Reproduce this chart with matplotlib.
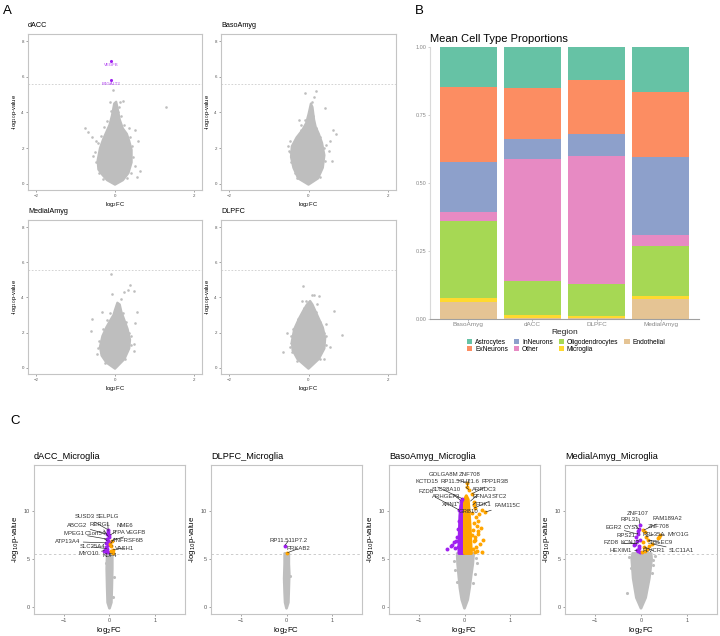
import matplotlib
matplotlib.use("Agg")
import matplotlib.pyplot as plt

plt.rcParams["font.family"] = ["Liberation Sans", "DejaVu Sans"]

W, H = 720, 636
GREY = "#BEBEBE"
PURPLE = "#A020F0"
ORANGE = "#FFA500"
THRESH = 5.58

# ---------------- panel A data (log2FC, -log10 p) ----------------
# dense cloud outlines + sparse outlying genes
dacc_env_x = [0.0, 0.2, 0.34, 0.42, 0.42, 0.36, 0.3, 0.2, 0.12, 0.06, 0.03, -0.02, -0.08, -0.14, -0.22, -0.3, -0.38, -0.44, -0.42, -0.32, -0.2]
dacc_env_y = [-0.05, 0.2, 0.6, 1.2, 1.9, 2.4, 2.8, 3.1, 3.6, 4.3, 4.6, 4.5, 3.8, 3.3, 2.9, 2.5, 2.0, 1.3, 0.8, 0.5, 0.2]
dacc_pts_x = [-0.76, -0.68, -0.59, -0.48, -0.55, 0.13, 0.19, 0.51, 0.57, 0.63, 0.55, 1.29, -0.13, 0.08, -0.06,
              -0.5, -0.47, -0.4, 0.46, 0.44, 0.38, -0.35, -0.27, 0.22, 0.3, -0.3, 0.15, -0.1, 0.35, -0.42, 0.5, 0.4, -0.2, 0.1]
dacc_pts_y = [3.14, 2.9, 2.6, 2.42, 1.58, 4.58, 4.62, 3.0, 2.4, 0.73, 0.36, 4.3, 4.58, 4.0, 5.28,
              1.8, 1.2, 0.6, 1.5, 2.1, 2.6, 2.7, 3.2, 3.3, 0.3, 0.25, 3.8, 4.1, 3.1, 2.3, 1.0, 0.6, 3.5, 4.3]
dacc_sig_x = [-0.1, -0.1]
dacc_sig_y = [6.89, 5.84]
dacc_sig_genes = ["VEGFB", "B4GALT2"]

baso_env_x = [0.0, 0.24, 0.36, 0.4, 0.34, 0.26, 0.18, 0.14, 0.1, 0.06, 0.0, -0.06, -0.16, -0.3, -0.42, -0.44, -0.38, -0.26]
baso_env_y = [-0.05, 0.3, 0.9, 1.6, 2.3, 2.8, 3.2, 3.6, 4.3, 4.5, 3.9, 3.4, 3.0, 2.6, 2.1, 1.5, 0.9, 0.3]
baso_pts_x = [-0.08, 0.18, 0.13, 0.08, 0.41, -0.23, -0.2, -0.46, -0.52, -0.49, 0.54, 0.62, 0.68, 0.6, 0.51,
              -0.46, -0.45, -0.35, 0.42, 0.38, 0.3, -0.35, -0.2, 0.2, 0.28, -0.28, 0.12, -0.1, 0.45, -0.38]
baso_pts_y = [5.09, 5.18, 4.86, 4.58, 4.26, 3.55, 3.27, 2.42, 2.14, 1.86, 2.42, 2.99, 2.8, 1.3, 1.86,
              1.8, 1.2, 0.6, 1.3, 2.0, 2.6, 2.4, 3.0, 3.1, 0.4, 0.3, 3.8, 3.6, 2.2, 2.0]

medial_env_x = [0.0, 0.24, 0.36, 0.38, 0.32, 0.24, 0.16, 0.12, 0.06, 0.0, -0.04, -0.12, -0.22, -0.32, -0.38, -0.34, -0.22]
medial_env_y = [-0.05, 0.5, 1.1, 1.6, 2.2, 2.7, 3.2, 3.6, 3.7, 3.3, 3.0, 2.7, 2.3, 1.8, 1.2, 0.7, 0.3]
medial_pts_x = [-0.09, 0.37, 0.32, 0.47, 0.23, -0.07, -0.58, -0.6, -0.33, 0.55, 0.51, 0.47, 0.47, -0.45, 0.15,
                -0.4, -0.36, 0.4, 0.36, 0.28, -0.3, -0.2, 0.2, 0.26, -0.25, -0.13, 0.4, -0.42]
medial_pts_y = [5.32, 4.72, 4.4, 4.34, 4.3, 4.2, 2.75, 2.1, 3.2, 3.2, 2.57, 1.35, 0.97, 0.79, 3.9,
                1.5, 0.9, 1.3, 2.0, 2.6, 2.2, 2.7, 3.1, 0.5, 0.3, 3.1, 1.8, 1.1]

dlpfc_env_x = [0.0, 0.26, 0.4, 0.42, 0.36, 0.26, 0.16, 0.1, 0.04, -0.04, -0.12, -0.24, -0.36, -0.42, -0.4, -0.28]
dlpfc_env_y = [-0.05, 0.5, 1.1, 1.7, 2.3, 2.8, 3.3, 3.6, 3.8, 3.6, 3.3, 2.8, 2.2, 1.5, 1.0, 0.5]
dlpfc_pts_x = [-0.14, 0.08, 0.14, 0.27, -0.17, -0.06, 0.21, 0.63, -0.53, -0.63, 0.84, 0.55, 0.43, 0.38, -0.46,
               -0.45, -0.42, 0.44, 0.4, 0.3, -0.38, -0.26, 0.2, 0.3, -0.3, -0.12, 0.44, -0.45]
dlpfc_pts_y = [4.63, 4.16, 4.12, 4.06, 3.82, 3.82, 3.63, 3.22, 2.0, 0.88, 1.87, 1.2, 2.47, 0.5, 1.16,
               1.4, 0.9, 1.3, 2.0, 2.6, 2.2, 2.8, 3.2, 0.5, 0.4, 3.4, 1.8, 1.8]

# ---------------- panel B data ----------------
regions = ["BasoAmyg", "dACC", "DLPFC", "MedialAmyg"]
cell_types = ["Endothelial", "Microglia", "Oligodendrocytes", "Other", "InNeurons", "ExNeurons", "Astrocytes"]
endothelial = [0.064, 0.005, 0.005, 0.074]
microglia = [0.013, 0.010, 0.007, 0.012]
oligodendrocytes = [0.285, 0.125, 0.116, 0.184]
other = [0.033, 0.449, 0.472, 0.038]
inneurons = [0.183, 0.074, 0.079, 0.286]
exneurons = [0.275, 0.185, 0.201, 0.239]
astrocytes = [0.147, 0.152, 0.120, 0.167]
cell_colors = {
    "Astrocytes": "#66C2A5", "ExNeurons": "#FC8D62", "InNeurons": "#8DA0CB",
    "Other": "#E78AC3", "Oligodendrocytes": "#A6D854", "Microglia": "#FFD92F",
    "Endothelial": "#E5C494",
}
legend_order = ["Astrocytes", "ExNeurons", "InNeurons", "Other", "Oligodendrocytes", "Microglia", "Endothelial"]

# ---------------- panel C data ----------------
c_dacc_env_x = [0.0, 0.04, 0.05, 0.06, 0.06, -0.05, -0.06, -0.05, -0.04]
c_dacc_env_y = [-0.1, 0.5, 2.0, 4.0, 5.6, 5.6, 4.0, 2.0, 0.5]
c_dacc_pts_x = [0.07, 0.09, -0.07]
c_dacc_pts_y = [1.08, 3.2, 4.6]
c_dacc_down_x = [-0.04, -0.03, -0.05, -0.02, -0.06, -0.04, -0.07, -0.03, -0.08, -0.05, -0.1, -0.07, -0.12, -0.04, -0.02, -0.01]
c_dacc_down_y = [8.09, 7.85, 7.6, 7.3, 7.1, 6.9, 6.7, 6.5, 6.3, 6.1, 6.0, 5.8, 5.9, 5.7, 6.8, 7.5]
c_dacc_up_x = [0.05, 0.03, 0.07, 0.06, 0.04, 0.02, 0.08]
c_dacc_up_y = [6.9, 6.35, 6.0, 5.7, 5.9, 6.6, 5.65]
c_dacc_genes = ["SUSD3", "SELPLG", "ABCG2", "RERGL", "NME6", "MPEG1", "C1orf54", "ITPA",
                "VEGFB", "ATP13A4", "TNFRSF6B", "SLC25A4", "VASH1", "MYO10", "KLF4"]
c_dacc_gene_x = [-0.04, -0.03, -0.05, -0.02, 0.01, -0.06, -0.04, 0.02,
                 0.03, -0.07, 0.05, -0.05, 0.07, -0.1, 0.0]
c_dacc_gene_y = [8.09, 7.85, 7.6, 7.3, 7.5, 7.1, 6.9, 6.6,
                 6.9, 6.7, 6.35, 6.1, 6.0, 5.9, 5.7]

c_dlpfc_env_x = [0.0, 0.04, 0.05, 0.06, 0.05, 0.05, -0.04, -0.04, -0.05, -0.04, -0.03]
c_dlpfc_env_y = [-0.1, 0.5, 2.0, 3.5, 4.5, 5.6, 5.6, 4.5, 3.0, 1.5, 0.5]
c_dlpfc_pts_x = [0.07, -0.06]
c_dlpfc_pts_y = [3.3, 2.6]
c_dlpfc_down_x = [-0.04]
c_dlpfc_down_y = [6.42]
c_dlpfc_up_x = [0.01]
c_dlpfc_up_y = [5.66]
c_dlpfc_genes = ["RP11.511P7.2", "PRKAB2"]
c_dlpfc_gene_x = [-0.04, 0.01]
c_dlpfc_gene_y = [6.42, 5.66]

c_baso_env_x = [0.0, 0.07, 0.11, 0.15, 0.18, 0.2, -0.16, -0.15, -0.13, -0.1, -0.06]
c_baso_env_y = [-0.1, 0.8, 2.0, 3.5, 4.5, 5.6, 5.6, 4.5, 3.5, 2.0, 0.8]
c_baso_pts_x = [-0.22, 0.27, 0.25, -0.2, 0.22, -0.17, 0.18]
c_baso_pts_y = [4.8, 4.6, 5.1, 3.9, 3.5, 2.6, 2.5]
c_baso_down_env_x = [-0.005, -0.005, -0.04, -0.08, -0.1, -0.11, -0.12, -0.12]
c_baso_down_env_y = [5.6, 10.8, 11.0, 10.6, 9.5, 8.0, 6.5, 5.6]
c_baso_up_env_x = [0.0, 0.0, 0.04, 0.08, 0.1, 0.12, 0.14, 0.15]
c_baso_up_env_y = [5.6, 11.2, 11.6, 11.2, 10.0, 8.5, 6.5, 5.6]
c_baso_down_x = [-0.38, -0.3, -0.27, -0.23, -0.18, -0.16, -0.14, -0.13, -0.11, -0.15, -0.2, -0.08, -0.05]
c_baso_down_y = [6.1, 6.4, 6.5, 6.8, 6.9, 7.3, 8.1, 9.0, 10.1, 6.3, 6.2, 11.1, 11.3]
c_baso_up_x = [0.2, 0.22, 0.17, 0.25, 0.3, 0.2, 0.27, 0.35, 0.18, 0.3, 0.23, 0.4, 0.2, 0.33, 0.26,
               0.18, 0.28, 0.38, 0.22, 0.45, 0.38, 0.16, 0.06, 0.05, 0.1, 0.3, 0.24, 0.17, 0.32, 0.2]
c_baso_up_y = [10.6, 10.3, 9.8, 9.4, 9.0, 8.8, 8.5, 8.2, 8.0, 7.6, 7.3, 7.0, 6.9, 6.6, 6.3,
               6.1, 5.9, 5.8, 5.7, 9.9, 10.1, 11.8, 12.5, 12.9, 12.2, 7.9, 7.0, 7.5, 9.7, 11.0]
c_baso_genes = ["GOLGA8M", "ZNF708", "KCTD15", "RP11.57H21.6", "PPP1R3B", "SLC38A10", "ARRDC3",
                "FZD8", "ARHGEF3", "EFNA3", "STC2", "XRN1", "PDK1", "FAM115C", "GRB10"]
c_baso_gene_x = [0.05, 0.06, -0.05, 0.1, 0.16, -0.08, 0.12, -0.11, -0.1, 0.17, 0.2, -0.11, 0.22, 0.45, 0.1]
c_baso_gene_y = [12.9, 12.5, 11.3, 12.2, 11.8, 11.1, 11.0, 10.1, 10.8, 10.6, 10.3, 10.1, 10.1, 9.9, 10.0]

c_medial_env_x = [0.0, 0.1, 0.18, 0.23, 0.22, -0.18, -0.2, -0.17, -0.1]
c_medial_env_y = [-0.1, 1.0, 3.0, 5.0, 5.6, 5.6, 5.0, 3.0, 1.0]
c_medial_pts_x = [-0.31, 0.27, 0.25, 0.3, -0.25, 0.24, -0.22]
c_medial_pts_y = [1.45, 4.4, 4.9, 5.3, 5.2, 3.6, 4.1]
c_medial_down_x = [-0.02, -0.04, -0.06, -0.1, -0.08, -0.12, -0.15, -0.05, -0.07, -0.03, -0.09, -0.02, -0.04, -0.06]
c_medial_down_y = [8.6, 8.1, 7.6, 7.3, 6.9, 6.6, 6.5, 6.2, 5.9, 5.7, 6.0, 7.0, 6.4, 7.9]
c_medial_up_x = [0.05, 0.08, 0.38, 0.41, 0.36, 0.23, 0.18, 0.15, 0.12, 0.1, 0.03, 0.06, 0.04, 0.08]
c_medial_up_y = [8.0, 7.8, 7.34, 7.5, 7.2, 6.6, 6.4, 7.0, 6.1, 7.3, 5.8, 6.3, 6.8, 5.9]
c_medial_genes = ["ZNF107", "RPL31", "FAM189A2", "EGR2", "CYS1", "ZNF708", "RPL35A", "MYO1G",
                  "RPS21", "FZD8", "KCNJ2", "SIGLEC9", "HEXIM1", "FLVCR1", "SLC11A1"]
c_medial_gene_x = [-0.02, -0.04, 0.05, -0.06, -0.06, 0.08, 0.1, 0.41, -0.05, -0.12, -0.08, 0.15, -0.07, 0.06, 0.23]
c_medial_gene_y = [8.6, 8.1, 8.0, 7.6, 7.6, 7.8, 7.3, 7.5, 6.9, 6.6, 6.6, 7.0, 5.9, 6.3, 6.6]

# label placement (text positions, data units)
c_dacc_text = [(-0.53, 9.41), (-0.04, 9.41), (-0.7, 8.47), (-0.2, 8.6), (0.33, 8.47), (-0.77, 7.67),
               (-0.31, 7.67), (0.2, 7.74), (0.59, 7.74), (-0.91, 6.84), (0.41, 6.94), (-0.38, 6.28),
               (0.32, 6.15), (-0.46, 5.59), (0.0, 5.35)]
c_dlpfc_text = [(0.04, 6.9), (0.25, 6.08)]
c_baso_text = [(-0.45, 13.8), (0.11, 13.8), (-0.83, 13.05), (-0.1, 13.05), (0.67, 13.05), (-0.39, 12.3),
               (0.43, 12.3), (-0.85, 12.0), (-0.41, 11.5), (0.38, 11.5), (0.77, 11.5), (-0.32, 10.7),
               (0.41, 10.7), (0.93, 10.6), (0.09, 9.93)]
c_medial_text = [(-0.07, 9.79), (-0.24, 9.1), (0.57, 9.2), (-0.6, 8.27), (-0.2, 8.27), (0.38, 8.4),
                 (0.27, 7.6), (0.81, 7.54), (-0.33, 7.5), (-0.64, 6.7), (-0.24, 6.7), (0.41, 6.75),
                 (-0.44, 5.88), (0.27, 5.88), (0.88, 5.95)]


def px_axes(fig, left, top, right, bottom):
    return fig.add_axes([left / W, 1 - bottom / H, (right - left) / W, (bottom - top) / H])


def style_box(ax, tick_size, label_size):
    for s in ax.spines.values():
        s.set_color("#C4C4C4")
        s.set_linewidth(0.8)
    ax.tick_params(colors="#7F7F7F", labelcolor="#555555", labelsize=tick_size, length=1.5, width=0.5, pad=1.5)
    ax.set_xlabel(r"log$_2$FC", fontsize=label_size, labelpad=1.5)
    ax.set_ylabel(r"-log$_{10}$p-value", fontsize=label_size, labelpad=2)


def panel_a(ax, title, env_x, env_y, pts_x, pts_y, sig_x=None, sig_y=None, genes=None):
    ax.fill(env_x, env_y, color=GREY, lw=1.6, joinstyle="round", zorder=2)
    ax.scatter(pts_x, pts_y, s=3.5, color=GREY, lw=0, zorder=2)
    if sig_x is not None:
        ax.scatter(sig_x, sig_y, s=5, color=PURPLE, lw=0, zorder=3)
        for gx, gy, g in zip(sig_x, sig_y, genes):
            ax.text(gx, gy - 0.25, g, color="#B040F0", fontsize=3.2, ha="center", va="center")
    ax.axhline(THRESH, color="#CCCCCC", lw=0.6, ls=(0, (2, 2)), zorder=1)
    ax.set_xlim(-2.2, 2.2)
    ax.set_ylim(-0.35, 8.4)
    ax.set_xticks([-2, 0, 2])
    ax.set_yticks([0, 2, 4, 6, 8])
    style_box(ax, 3.2, 4.2)
    ax.text(0, 1.03, title, transform=ax.transAxes, fontsize=5.2, ha="left", va="bottom")


def panel_c(ax, title, env_x, env_y, pts_x, pts_y, down_x, down_y, up_x, up_y,
            genes, gene_x, gene_y, text_pos, down_env=None, up_env=None):
    ax.fill(env_x, env_y, color=GREY, lw=2.0, joinstyle="round", zorder=2)
    ax.scatter(pts_x, pts_y, s=5, color=GREY, lw=0, zorder=2)
    if down_env is not None:
        ax.fill(down_env[0], down_env[1], color=PURPLE, lw=2.2, joinstyle="round", zorder=3)
    if up_env is not None:
        ax.fill(up_env[0], up_env[1], color=ORANGE, lw=2.2, joinstyle="round", zorder=3)
    ax.scatter(down_x, down_y, s=8, color=PURPLE, lw=0, zorder=3)
    ax.scatter(up_x, up_y, s=8, color=ORANGE, lw=0, zorder=3)
    ax.axhline(THRESH, color="#CCCCCC", lw=0.7, ls=(0, (2.5, 2.5)), zorder=1)
    for g, gx, gy, (tx, ty) in zip(genes, gene_x, gene_y, text_pos):
        ax.annotate(g, xy=(gx, gy), xytext=(tx, ty), fontsize=4.3, color="#333333",
                    ha="center", va="center", zorder=5,
                    arrowprops=dict(arrowstyle="-", lw=0.45, color="#222222", shrinkA=0, shrinkB=0.5))
    ax.set_xlim(-1.65, 1.65)
    ax.set_ylim(-0.7, 14.8)
    ax.set_xticks([-1, 0, 1])
    ax.set_yticks([0, 5, 10])
    style_box(ax, 4.0, 5.6)
    ax.text(0, 1.025, title, transform=ax.transAxes, fontsize=6.6, ha="left", va="bottom")


fig = plt.figure(figsize=(W / 100, H / 100), dpi=100)

# ---------- A ----------
fig.text(3 / W, 1 - 5 / H, "A", fontsize=9.5, va="top", ha="left")
panel_a(px_axes(fig, 28, 34, 202, 190), "dACC", dacc_env_x, dacc_env_y, dacc_pts_x, dacc_pts_y,
        dacc_sig_x, dacc_sig_y, dacc_sig_genes)
panel_a(px_axes(fig, 221, 34, 396, 190), "BasoAmyg", baso_env_x, baso_env_y, baso_pts_x, baso_pts_y)
panel_a(px_axes(fig, 28, 220, 202, 374), "MedialAmyg", medial_env_x, medial_env_y, medial_pts_x, medial_pts_y)
panel_a(px_axes(fig, 221, 220, 396, 374), "DLPFC", dlpfc_env_x, dlpfc_env_y, dlpfc_pts_x, dlpfc_pts_y)

# ---------- B ----------
fig.text(415 / W, 1 - 5 / H, "B", fontsize=9.5, va="top", ha="left")
axb = px_axes(fig, 430, 47, 699, 319)
values = {"Endothelial": endothelial, "Microglia": microglia, "Oligodendrocytes": oligodendrocytes,
          "Other": other, "InNeurons": inneurons, "ExNeurons": exneurons, "Astrocytes": astrocytes}
bottom = [0.0] * len(regions)
pos = list(range(len(regions)))
handles = {}
for ct in cell_types:
    handles[ct] = axb.bar(pos, values[ct], bottom=bottom, width=0.9, color=cell_colors[ct], lw=0, label=ct)
    bottom = [b + v for b, v in zip(bottom, values[ct])]
axb.set_xlim(-0.6, 3.6)
axb.set_ylim(0, 1)
axb.set_xticks(pos)
axb.set_xticklabels(regions)
axb.set_yticks([0, 0.25, 0.5, 0.75, 1.0])
axb.set_yticklabels(["0.00", "0.25", "0.50", "0.75", "1.00"])
for s in ["top", "right"]:
    axb.spines[s].set_visible(False)
axb.spines["left"].set_color("#D9D9D9")
axb.spines["left"].set_linewidth(0.8)
axb.spines["bottom"].set_color("#A0A0A0")
axb.spines["bottom"].set_linewidth(0.8)
axb.tick_params(axis="y", colors="#BBBBBB", labelcolor="#888888", labelsize=4.0, length=1.5, width=0.5, pad=1)
axb.tick_params(axis="x", colors="#A0A0A0", labelcolor="#888888", labelsize=4.6, length=1.5, width=0.5, pad=1)
axb.set_xlabel("Region", fontsize=6.0, labelpad=1, color="#222222")
axb.text(0, 1.01, "Mean Cell Type Proportions", transform=axb.transAxes, fontsize=8, ha="left", va="bottom")
fig.legend([handles[c] for c in legend_order], legend_order, loc="center", ncol=4,
           bbox_to_anchor=(566 / W, 1 - 346 / H), frameon=False, fontsize=4.8,
           handlelength=0.8, handleheight=0.8, handletextpad=0.4, columnspacing=0.9,
           labelspacing=0.05, borderpad=0)

# ---------- C ----------
fig.text(10 / W, 1 - 415 / H, "C", fontsize=9.5, va="top", ha="left")
panel_c(px_axes(fig, 34, 465, 185, 614), "dACC_Microglia", c_dacc_env_x, c_dacc_env_y,
        c_dacc_pts_x, c_dacc_pts_y, c_dacc_down_x, c_dacc_down_y, c_dacc_up_x, c_dacc_up_y,
        c_dacc_genes, c_dacc_gene_x, c_dacc_gene_y, c_dacc_text)
panel_c(px_axes(fig, 211, 465, 362, 614), "DLPFC_Microglia", c_dlpfc_env_x, c_dlpfc_env_y,
        c_dlpfc_pts_x, c_dlpfc_pts_y, c_dlpfc_down_x, c_dlpfc_down_y, c_dlpfc_up_x, c_dlpfc_up_y,
        c_dlpfc_genes, c_dlpfc_gene_x, c_dlpfc_gene_y, c_dlpfc_text)
panel_c(px_axes(fig, 389, 465, 540, 614), "BasoAmyg_Microglia", c_baso_env_x, c_baso_env_y,
        c_baso_pts_x, c_baso_pts_y, c_baso_down_x, c_baso_down_y, c_baso_up_x, c_baso_up_y,
        c_baso_genes, c_baso_gene_x, c_baso_gene_y, c_baso_text,
        down_env=(c_baso_down_env_x, c_baso_down_env_y), up_env=(c_baso_up_env_x, c_baso_up_env_y))
panel_c(px_axes(fig, 565, 465, 717, 614), "MedialAmyg_Microglia", c_medial_env_x, c_medial_env_y,
        c_medial_pts_x, c_medial_pts_y, c_medial_down_x, c_medial_down_y, c_medial_up_x, c_medial_up_y,
        c_medial_genes, c_medial_gene_x, c_medial_gene_y, c_medial_text)

fig.savefig("out.png", dpi=100)
